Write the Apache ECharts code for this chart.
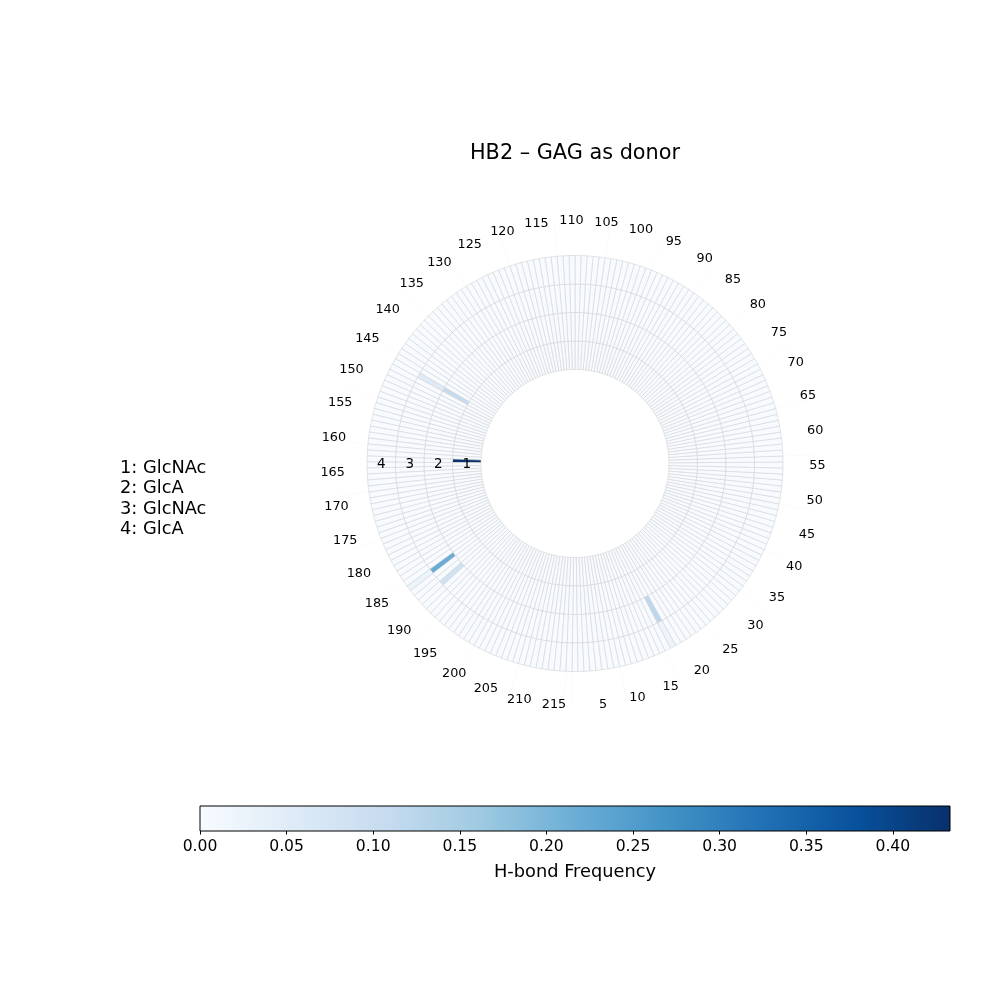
<!DOCTYPE html>
<html>
<head>
<meta charset="utf-8">
<script src="https://cdn.jsdelivr.net/npm/echarts@6/dist/echarts.min.js"></script>
<style>
  html, body { margin: 0; padding: 0; background: #fff; }
  #chart { width: 1000px; height: 1000px; }
</style>
</head>
<body>
<div id="chart"></div>
<script>
// ----------data----------
// residues around the circle (1..217), GAG units as rings from inside out
const residueCount = 217;
const residues = Array.from({ length: residueCount }, (_, i) => String(i + 1));
const angleTicks = [5, 10, 15, 20, 25, 30, 35, 40, 45, 50, 55, 60, 65, 70, 75, 80, 85, 90, 95, 100,
  105, 110, 115, 120, 125, 130, 135, 140, 145, 150, 155, 160, 165, 170, 175, 180, 185, 190, 195, 200,
  205, 210, 215];
const gagUnits = ['1', '2', '3', '4'];
const unitNames = ['GlcNAc', 'GlcA', 'GlcNAc', 'GlcA'];

// non-zero H-bond cells (everything else is 0)
const hitResidue = [163, 146, 146, 186, 189, 186, 18, 18];
const hitUnit = [1, 2, 3, 3, 3, 4, 3, 4];
const hitFreq = [0.433, 0.108, 0.054, 0.22, 0.085, 0.025, 0.12, 0.022];

const colorbarTicks = [0, 0.05, 0.1, 0.15, 0.2, 0.25, 0.3, 0.35, 0.4];
// -------------------------

// ----------colormap (matplotlib Blues)----------
const BLUES = ['#f7fbff', '#deebf7', '#c6dbef', '#9ecae1', '#6baed6', '#4292c6', '#2171b5', '#08519c', '#08306b'];
const hex2rgb = (h) => [1, 3, 5].map((i) => parseInt(h.slice(i, i + 2), 16));
const blues = (t) => {
  t = Math.max(0, Math.min(1, t));
  const pos = t * (BLUES.length - 1);
  const i = Math.min(Math.floor(pos), BLUES.length - 2);
  const f = pos - i;
  const a = hex2rgb(BLUES[i]);
  const b = hex2rgb(BLUES[i + 1]);
  const c = a.map((v, k) => Math.round(v + (b[k] - v) * f));
  return `rgb(${c[0]},${c[1]},${c[2]})`;
};
// -----------------------------------------------

const vmax = Math.max(...hitFreq);
// freq[unit][residueIndex]
const freq = gagUnits.map(() => residues.map(() => 0));
hitResidue.forEach((r, i) => { freq[hitUnit[i] - 1][r - 1] = hitFreq[i]; });

const step = 360 / residueCount;
// ring geometry: hole 94px, each ring 28.5px; residue labels sit at 5.21 ring units
const innerR = 94;
const ringPx = 28.5;
const labelRadius = 5.21;

const ringSeries = gagUnits.map((u, k) => ({
  type: 'bar',
  coordinateSystem: 'polar',
  stack: 'gag',
  barCategoryGap: '0%',
  silent: true,
  itemStyle: { borderColor: '#d3d3d3', borderWidth: 0.6 },
  data: residues.map((r, i) => ({
    value: 1,
    itemStyle: { color: blues(freq[k][i] / vmax) },
  })),
}));

const textLabel = (size) => ({
  show: true,
  position: 'inside',
  formatter: '{b}',
  color: '#000',
  opacity: 1,
  textBorderWidth: 0,
  fontSize: size,
  fontFamily: 'DejaVu Sans',
});

const chart = echarts.init(document.getElementById('chart'));

const option = {
  animation: false,
  backgroundColor: '#fff',
  textStyle: { fontFamily: 'DejaVu Sans' },
  title: [
    {
      text: 'HB2 – GAG as donor',
      left: 575,
      top: 143,
      textAlign: 'center',
      padding: 0,
      textStyle: { fontSize: 20.8, fontWeight: 'normal', color: '#000', fontFamily: 'DejaVu Sans' },
    },
    {
      text: unitNames.map((n, i) => `${gagUnits[i]}: ${n}`).join('\n'),
      left: 120,
      top: 458,
      padding: 0,
      textStyle: { fontSize: 17.8, lineHeight: 20.5, fontWeight: 'normal', color: '#000', fontFamily: 'DejaVu Sans' },
    },
  ],
  polar: {
    center: [575, 463.5],
    radius: [innerR, innerR + labelRadius * ringPx],
  },
  angleAxis: {
    type: 'category',
    data: residues,
    startAngle: -90 - step / 2,
    clockwise: false,
    boundaryGap: true,
    axisLine: { show: false },
    axisTick: { show: false },
    axisLabel: { show: false },
    splitLine: { show: true, interval: 0, lineStyle: { color: '#f6f6f6', width: 0.5 } },
  },
  radiusAxis: {
    type: 'value',
    min: 0,
    max: labelRadius,
    axisLine: { show: false },
    axisTick: { show: false },
    axisLabel: { show: false },
    splitLine: { show: false },
  },
  grid: {
    left: 200,
    top: 806,
    width: 750,
    height: 25,
  },
  xAxis: {
    type: 'value',
    min: 0,
    max: vmax,
    axisLine: { show: false },
    axisTick: { show: true, customValues: colorbarTicks, length: 3.5, lineStyle: { color: '#000', width: 1 } },
    axisLabel: {
      customValues: colorbarTicks,
      formatter: (v) => v.toFixed(2),
      fontSize: 15.6,
      color: '#000',
      margin: 8,
    },
    splitLine: { show: false },
    name: 'H-bond Frequency',
    nameLocation: 'middle',
    nameGap: 32,
    nameTextStyle: { fontSize: 17.8, color: '#000' },
  },
  yAxis: { type: 'value', min: 0, max: 1, show: false },
  series: [
    ...ringSeries,
    {
      // ring labels along the left side
      type: 'scatter',
      coordinateSystem: 'polar',
      symbolSize: 1,
      silent: true,
      z: 5,
      itemStyle: { color: 'rgba(0,0,0,0)' },
      label: textLabel(13.5),
      data: gagUnits.map((u, k) => ({ name: u, value: [k + 0.5, '164'] })),
    },
    {
      // residue labels around the outside
      type: 'scatter',
      coordinateSystem: 'polar',
      symbolSize: 1,
      silent: true,
      z: 5,
      itemStyle: { color: 'rgba(0,0,0,0)' },
      label: textLabel(12.8),
      data: angleTicks.map((r) => ({ name: String(r), value: [labelRadius, String(r)] })),
    },
    {
      // colorbar
      type: 'custom',
      coordinateSystem: 'cartesian2d',
      silent: true,
      data: [[0, vmax]],
      renderItem: (params, api) => {
        const p0 = api.coord([api.value(0), 1]);
        const p1 = api.coord([api.value(1), 0]);
        return {
          type: 'rect',
          shape: { x: p0[0], y: p0[1], width: p1[0] - p0[0], height: p1[1] - p0[1] },
          style: {
            fill: new echarts.graphic.LinearGradient(0, 0, 1, 0,
              BLUES.map((c, i) => ({ offset: i / (BLUES.length - 1), color: c }))),
            stroke: '#000',
            lineWidth: 1,
          },
        };
      },
    },
  ],
};

chart.setOption(option);
</script>
</body>
</html>
